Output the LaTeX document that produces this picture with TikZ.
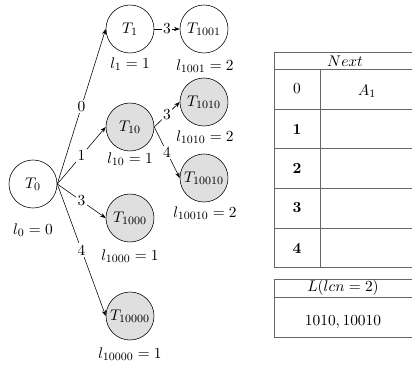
\documentclass[tikz,border=0pt,11pt]{standalone}
\usetikzlibrary{arrows.meta}
\begin{document}
\begin{tikzpicture}[x=0.025cm,y=-0.025cm,line width=0.4pt,
  trie/.style={circle,draw,minimum size=1.2cm,inner sep=0pt},
  done/.style={trie,fill=gray!25},
  edge/.style={-{Stealth[length=4pt,width=3pt]}},
  sym/.style={fill=white,inner sep=1pt,midway},
  tab/.style={draw=gray!80!black}]
  \useasboundingbox (0,0) rectangle (412,364);

  % Trie nodes, one column per depth.
  \node[trie] (t0) at (33,184) {$T_0$};
  \node[trie] (t1) at (130,29) {$T_1$};
  \node[done] (t10) at (130,127) {$T_{10}$};
  \node[done] (t1000) at (130,218) {$T_{1000}$};
  \node[done] (t10000) at (130,316) {$T_{10000}$};
  \node[trie] (t1001) at (204,29) {$T_{1001}$};
  \node[done] (t1010) at (204,102) {$T_{1010}$};
  \node[done] (t10010) at (204,178) {$T_{10010}$};

  % Depth under each node.
  \node (l0) at (33,230) {$l_0=0$};
  \node (l1) at (130,64) {$l_1=1$};
  \node (l10) at (130,159) {$l_{10}=1$};
  \node (l1000) at (130,256) {$l_{1000}=1$};
  \node (l10000) at (130,354) {$l_{10000}=1$};
  \node (l1001) at (205,66) {$l_{1001}=2$};
  \node (l1010) at (205,137) {$l_{1010}=2$};
  \node (l10010) at (205,213) {$l_{10010}=2$};

  % Transitions labelled by symbol.
  \draw[edge] (t0.east) -- node[sym] {0} (t1.west);
  \draw[edge] (t0.east) -- node[sym] {1} (t10.west);
  \draw[edge] (t0.east) -- node[sym] {3} (t1000.west);
  \draw[edge] (t0.east) -- node[sym] {4} (t10000.west);
  \draw[edge] (t1.east) -- node[sym] {3} (t1001.west);
  \draw[edge] (t10.east) -- node[sym] {3} (t1010.west);
  \draw[edge] (t10.east) -- node[sym] {4} (t10010.west);

  % Next table.
  \draw[tab] (412,52) -- (274,52) -- (274,267) -- (412,267);
  \foreach \y in {69,109,148,188,228}
    \draw[tab] (274,\y) -- (412,\y);
  \draw[tab] (320,69) -- (320,267);
  \node (next) at (345,61) {$Next$};
  \node (r0) at (297,89) {0};
  \foreach \i/\y in {1/129,2/168,3/208,4/248}
    \node (r\i) at (297,\y) {\textbf{\i}};
  \node (a1) at (367,91) {$A_1$};

  % Output list.
  \draw[tab] (412,279) -- (274,279) -- (274,337) -- (412,337);
  \draw[tab] (274,297) -- (412,297);
  \node (lhead) at (343,288) {$L(lcn=2)$};
  \node (lout) at (343,322) {$1010, 10010$};
\end{tikzpicture}
\end{document}
